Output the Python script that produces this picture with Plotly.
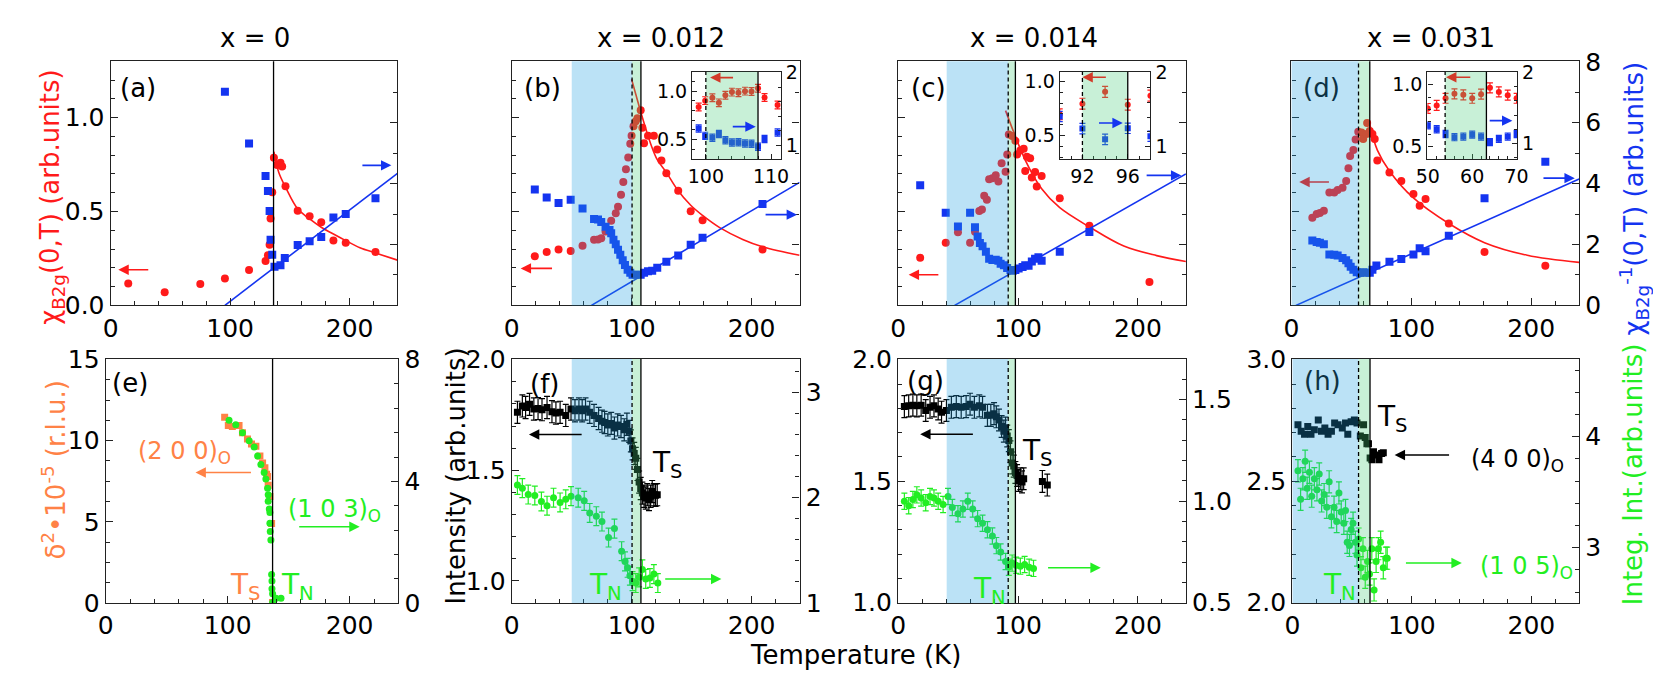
import plotly.graph_objects as go

# ======================= DATA =======================
# ---- (a) x = 0 ----
a_chi_T = [14.7, 45.2, 75.0, 95.6, 115.8, 129.6, 131.6, 133.0, 133.8, 135.2, 136.6, 139.3, 142.1, 143.5, 146.3, 156.5, 166.5, 176.2, 186.4, 196.7, 221.6]
a_chi = [0.117, 0.070, 0.114, 0.143, 0.188, 0.236, 0.267, 0.323, 0.462, 0.603, 0.786, 0.747, 0.759, 0.739, 0.635, 0.504, 0.474, 0.443, 0.345, 0.334, 0.284]
a_inv_T = [95.6, 115.8, 129.6, 131.6, 133.0, 133.8, 135.2, 137.1, 142.1, 145.7, 156.5, 166.5, 176.2, 186.4, 196.7, 221.6]
a_inv = [7.02, 5.32, 4.25, 3.76, 3.10, 2.16, 1.66, 1.27, 1.32, 1.56, 1.98, 2.11, 2.25, 2.89, 3.00, 3.52]
a_fit_T = [136.6, 140.7, 146.3, 156.5, 166.5, 176.2, 186.4, 196.7, 208.6, 221.6, 240.0]
a_fit = [0.818, 0.708, 0.630, 0.514, 0.460, 0.416, 0.380, 0.345, 0.307, 0.279, 0.241]
a_line_T = [95.6, 240.0]
a_line = [0.0, 4.34]

# ---- (b) x = 0.012 ----
b_chi_T = [19.2, 29.1, 39.0, 49.1, 59.0, 68.6, 71.9, 74.6, 78.2, 82.9, 86.7, 88.6, 91.1, 93.0, 95.2, 97.1, 98.8, 99.9, 101.5, 103.4, 104.8, 107.5, 108.9, 110.3, 113.6, 118.5, 121.3, 124.8, 128.9, 138.8, 149.2, 159.1, 209.1]
b_chi = [0.261, 0.284, 0.297, 0.289, 0.317, 0.350, 0.351, 0.357, 0.394, 0.450, 0.491, 0.525, 0.589, 0.657, 0.725, 0.788, 0.861, 0.903, 0.954, 0.980, 0.997, 1.039, 0.946, 0.864, 0.903, 0.903, 0.830, 0.772, 0.703, 0.611, 0.501, 0.453, 0.297]
b_inv_T = [19.2, 29.1, 39.0, 49.1, 59.0, 68.6, 71.9, 74.6, 78.2, 81.5, 82.9, 84.8, 86.7, 88.6, 90.5, 92.5, 94.4, 96.6, 98.8, 100.7, 103.4, 107.5, 110.3, 113.6, 117.1, 121.3, 128.9, 138.8, 149.2, 159.1, 209.1]
b_inv = [3.81, 3.54, 3.36, 3.47, 3.18, 2.84, 2.82, 2.74, 2.58, 2.48, 2.37, 2.16, 2.01, 1.83, 1.66, 1.48, 1.33, 1.17, 1.07, 1.01, 1.01, 1.01, 1.07, 1.12, 1.14, 1.24, 1.43, 1.64, 1.99, 2.22, 3.33]
b_fit_T = [99.9, 103.4, 107.5, 115.8, 121.3, 128.9, 137.7, 149.2, 159.1, 173.4, 192.6, 209.1, 240.0]
b_fit = [1.204, 1.124, 1.031, 0.861, 0.776, 0.708, 0.620, 0.533, 0.479, 0.414, 0.351, 0.312, 0.267]
b_line_T = [66.4, 240.0]
b_line = [0.0, 4.04]
bi_T = [98.9, 99.9, 101.0, 102.0, 103.0, 104.0, 105.0, 106.0, 107.0, 108.0, 109.0, 111.0]
bi_chi = [0.837, 0.902, 0.931, 0.879, 0.958, 0.990, 0.984, 1.000, 0.997, 1.030, 0.935, 0.856]
bi_inv = [1.228, 1.127, 1.100, 1.154, 1.066, 1.035, 1.040, 1.022, 1.018, 0.978, 1.083, 1.175]

# ---- (c) x = 0.014 ----
c_chi_T = [18.4, 39.7, 49.9, 60.0, 64.1, 67.7, 69.9, 71.8, 74.0, 75.9, 78.6, 81.4, 83.6, 86.3, 89.6, 92.3, 91.0, 95.1, 97.8, 99.2, 101.9, 104.7, 106.0, 107.4, 110.1, 111.5, 114.2, 115.6, 119.7, 134.8, 159.5, 209.6]
c_chi = [0.253, 0.333, 0.389, 0.333, 0.392, 0.503, 0.511, 0.584, 0.562, 0.672, 0.677, 0.693, 0.660, 0.757, 0.711, 0.910, 0.803, 0.902, 0.876, 0.803, 0.825, 0.834, 0.715, 0.791, 0.783, 0.681, 0.710, 0.633, 0.689, 0.570, 0.424, 0.124]
c_inv_T = [18.4, 39.7, 49.9, 60.0, 64.1, 66.3, 68.2, 70.4, 73.2, 75.9, 78.6, 81.4, 83.6, 85.5, 88.2, 90.9, 93.7, 95.6, 97.8, 100.5, 103.8, 106.0, 108.8, 111.5, 114.2, 117.0, 119.7, 134.8, 159.5]
c_inv = [3.95, 3.04, 2.59, 3.04, 2.57, 2.26, 2.05, 1.94, 1.76, 1.53, 1.49, 1.50, 1.47, 1.37, 1.32, 1.23, 1.16, 1.14, 1.16, 1.21, 1.26, 1.32, 1.30, 1.44, 1.53, 1.58, 1.47, 1.76, 2.41]
c_fit_T = [89.6, 95.1, 106.0, 119.7, 134.8, 159.5, 188.2, 215.6, 240.0]
c_fit = [1.037, 0.944, 0.774, 0.621, 0.520, 0.418, 0.316, 0.265, 0.234]
c_line_T = [47.1, 240.0]
c_line = [0.0, 4.32]
ci_T = [90.0, 92.0, 94.0, 96.0, 98.0]
ci_chi = [0.697, 0.794, 0.903, 0.785, 0.868]
ci_inv = [1.408, 1.245, 1.100, 1.249, 1.142]

# ---- (d) x = 0.031 ----
d_chi_T = [17.5, 21.1, 23.8, 27.1, 31.7, 35.8, 38.6, 42.7, 45.7, 47.6, 49.0, 51.7, 53.6, 55.8, 58.5, 59.9, 62.7, 63.2, 65.4, 67.6, 69.5, 71.7, 81.8, 91.7, 101.8, 107.0, 111.9, 131.3, 161.1, 211.8]
d_chi = [0.467, 0.487, 0.492, 0.504, 0.601, 0.601, 0.615, 0.626, 0.662, 0.730, 0.796, 0.827, 0.883, 0.924, 0.920, 0.886, 0.912, 0.971, 0.929, 0.912, 0.886, 0.771, 0.708, 0.662, 0.593, 0.530, 0.567, 0.436, 0.284, 0.211]
d_inv_T = [17.5, 21.1, 23.8, 27.1, 31.7, 35.8, 38.6, 42.7, 45.7, 47.6, 49.5, 51.7, 54.5, 57.2, 59.9, 62.7, 65.4, 67.6, 70.9, 81.8, 91.7, 101.8, 107.0, 111.9, 131.3, 161.1, 211.8]
d_inv = [2.13, 2.08, 2.06, 2.01, 1.67, 1.66, 1.64, 1.56, 1.48, 1.38, 1.27, 1.17, 1.09, 1.07, 1.09, 1.07, 1.07, 1.17, 1.31, 1.43, 1.52, 1.67, 1.88, 1.78, 2.29, 3.52, 4.72]
d_fit_T = [65.4, 71.7, 81.8, 101.8, 131.3, 161.1, 196.7, 240.0]
d_fit = [0.963, 0.827, 0.716, 0.572, 0.436, 0.334, 0.267, 0.229]
d_line_T = [3.8, 240.0]
d_line = [0.0, 4.15]
di_T = [50, 52, 54, 56, 58, 60, 62, 64, 66, 68, 70]
di_chi = [0.808, 0.833, 0.890, 0.926, 0.918, 0.890, 0.923, 0.974, 0.941, 0.915, 0.890]
di_inv = [1.256, 1.202, 1.135, 1.090, 1.099, 1.126, 1.099, 1.022, 1.067, 1.099, 1.135]

# ---- (e) x = 0 diffraction ----
e_d2_T = [97.5, 100.5, 103.8, 109.3, 112.1, 116.2, 119.5, 123.1, 126.4, 128.6, 130.5, 131.9, 132.7, 133.2, 134.6, 136.0, 136.8]
e_d2 = [11.45, 10.94, 10.88, 10.94, 10.49, 10.10, 9.80, 9.65, 9.06, 8.63, 8.33, 7.94, 7.80, 7.25, 6.57, 4.90, 0.04]
e_int_T = [101.1, 106.6, 112.1, 117.6, 121.7, 124.5, 127.2, 129.9, 131.3, 132.7, 133.2, 133.2, 134.1, 134.6, 134.6, 134.9, 135.4, 136.0, 136.3, 136.3, 136.8, 139.6, 143.7, 136.8]
e_int = [6.01, 5.86, 5.60, 5.33, 5.13, 4.83, 4.55, 4.29, 4.08, 3.77, 3.56, 3.35, 3.09, 2.98, 2.62, 2.35, 2.07, 0.94, 0.73, 0.47, 0.31, 0.16, 0.16, 0.02]

# ---- (f) x = 0.012 ----
f_S_T = [4.7, 8.8, 11.5, 14.8, 18.4, 21.9, 25.2, 29.4, 33.5, 36.8, 40.3, 45.0, 49.4, 52.7, 56.0, 58.7, 61.5, 65.0, 68.6, 72.4, 75.2, 77.4, 80.1, 82.9, 85.6, 88.3, 91.1, 93.8, 96.0, 97.9, 99.3, 100.7, 102.1, 103.4, 104.8, 106.2, 107.5, 108.9, 110.3, 111.7, 113.0, 114.4, 115.8, 117.1, 118.5, 119.9, 121.3]
f_S = [1.762, 1.791, 1.784, 1.798, 1.777, 1.779, 1.774, 1.784, 1.765, 1.759, 1.762, 1.748, 1.777, 1.769, 1.777, 1.769, 1.777, 1.762, 1.748, 1.734, 1.722, 1.716, 1.705, 1.712, 1.691, 1.705, 1.698, 1.683, 1.708, 1.676, 1.633, 1.597, 1.576, 1.554, 1.504, 1.447, 1.418, 1.397, 1.383, 1.375, 1.390, 1.368, 1.383, 1.404, 1.390, 1.387, 1.390]
f_N_T = [4.7, 8.8, 13.7, 19.2, 24.7, 29.4, 34.8, 40.3, 45.0, 49.4, 55.4, 60.4, 65.0, 70.5, 75.2, 80.7, 85.6, 91.6, 94.4, 96.6, 98.5, 100.7, 103.4, 106.2, 108.9, 111.7, 115.2, 118.5, 121.8]
f_N = [2.121, 2.091, 2.030, 2.021, 1.964, 1.924, 2.000, 1.955, 1.985, 2.015, 2.000, 1.970, 1.855, 1.824, 1.773, 1.621, 1.706, 1.491, 1.394, 1.333, 1.258, 1.206, 1.188, 1.242, 1.318, 1.227, 1.236, 1.273, 1.188]

# ---- (g) x = 0.014 ----
g_S_T = [5.2, 8.8, 12.3, 15.6, 19.2, 23.0, 26.6, 29.9, 33.4, 36.2, 40.3, 44.4, 48.5, 52.6, 56.7, 60.0, 63.6, 67.7, 70.4, 74.5, 77.3, 80.0, 81.9, 84.1, 86.3, 88.2, 89.6, 91.0, 92.3, 93.7, 95.1, 96.4, 97.8, 99.2, 100.5, 101.9, 103.3, 104.7, 120.3, 124.4]
g_S = [1.807, 1.810, 1.813, 1.810, 1.813, 1.791, 1.804, 1.810, 1.797, 1.784, 1.791, 1.804, 1.807, 1.804, 1.807, 1.817, 1.804, 1.810, 1.804, 1.771, 1.771, 1.778, 1.765, 1.752, 1.725, 1.706, 1.719, 1.686, 1.667, 1.621, 1.575, 1.562, 1.536, 1.523, 1.503, 1.510, 1.497, 1.510, 1.499, 1.484]
g_N_T = [5.2, 8.8, 12.3, 15.6, 19.2, 23.0, 26.6, 29.9, 33.4, 37.5, 41.6, 45.2, 49.9, 54.0, 58.1, 62.2, 66.3, 70.4, 74.5, 78.6, 81.9, 85.5, 89.6, 92.3, 95.1, 98.4, 101.9, 105.5, 109.3, 112.9]
g_N = [1.000, 0.977, 1.008, 1.031, 1.016, 0.992, 1.023, 1.016, 1.000, 0.984, 1.023, 0.969, 0.938, 0.961, 1.000, 0.961, 0.914, 0.891, 0.859, 0.828, 0.781, 0.750, 0.703, 0.675, 0.695, 0.684, 0.680, 0.688, 0.675, 0.669]

# ---- (h) x = 0.031 ----
h_S_T = [4.7, 7.4, 10.2, 12.9, 15.6, 18.4, 21.7, 24.4, 27.2, 29.9, 32.7, 35.4, 38.2, 41.8, 44.5, 46.4, 49.2, 51.9, 54.1, 56.9, 59.6, 61.0, 62.4, 63.7, 65.1, 66.5, 67.9, 70.1, 72.5, 74.7, 76.1]
h_S = [2.732, 2.706, 2.693, 2.725, 2.693, 2.712, 2.752, 2.706, 2.719, 2.693, 2.706, 2.739, 2.732, 2.719, 2.739, 2.693, 2.745, 2.752, 2.739, 2.686, 2.732, 2.680, 2.654, 2.654, 2.595, 2.588, 2.621, 2.608, 2.588, 2.614, 2.617]
h_N_T = [4.7, 6.9, 8.8, 10.7, 12.4, 14.3, 16.2, 18.4, 20.6, 22.5, 24.5, 26.6, 28.8, 30.8, 32.7, 34.9, 37.1, 39.0, 40.9, 43.1, 44.5, 45.9, 47.8, 49.2, 50.8, 52.7, 54.1, 55.5, 57.4, 59.1, 61.0, 62.9, 64.6, 66.5, 68.4, 70.1, 72.0, 73.9, 76.1, 78.3, 79.4]
h_N = [3.693, 3.435, 3.621, 3.779, 3.535, 3.679, 3.464, 3.621, 3.521, 3.664, 3.421, 3.478, 3.364, 3.593, 3.278, 3.364, 3.235, 3.493, 3.321, 3.220, 3.335, 3.048, 3.020, 3.163, 3.220, 3.048, 2.934, 3.077, 2.819, 2.991, 2.733, 2.876, 2.762, 2.991, 2.619, 2.876, 2.991, 3.048, 2.819, 2.905, 2.905]

# transition temperatures (K): start of blue region, dashed line (T_N), solid line (T_S)
b_marks = [50.0, 100.3, 107.7]
c_marks = [40.5, 91.8, 97.8]
d_marks = [0.0, 56.0, 65.4]
h_marks = [0.0, 55.4, 65.0]
a_TS = 136.3
e_TS = 136.8
bi_marks = [100.0, 108.0]
ci_marks = [92.0, 96.0]
di_marks = [53.9, 63.2]

titles = ["x = 0", "x = 0.012", "x = 0.014", "x = 0.031"]

# ======================= STYLE =======================
W, H = 1661, 680
FONT = "DejaVu Sans, Liberation Sans, Arial, sans-serif"
RED = "#ff1a1a"
BLUE = "#1434f0"
GREEN = "#22ee22"
ORANGE = "#ff8246"
BLACK = "#000000"
DARKRED_SHADED = "#b8404c"
TEAL_TXT = "#0c3244"
SH_BLUE = "rgb(30,160,225)"
SH_GREEN = "rgb(72,205,122)"
SH_OP = 0.3
AXC = "#222222"
TICK_SIZE = 25
INSET_TICK_SIZE = 19
TXT = 26


def px_x(p):
    return p / W


def px_y(p):
    return 1 - p / H


def xn(i):
    return "x" if i == 1 else f"x{i}"


def yn(i):
    return "y" if i == 1 else f"y{i}"


def xk(i):
    return "xaxis" if i == 1 else f"xaxis{i}"


def yk(i):
    return "yaxis" if i == 1 else f"yaxis{i}"


fig = go.Figure()
layout = dict(width=W, height=H, autosize=False, margin=dict(l=0, r=0, t=0, b=0),
              plot_bgcolor="white", paper_bgcolor="white", showlegend=False,
              hovermode=False, font=dict(family=FONT, color="black"))


def axis_common(size=TICK_SIZE, ticklen=7):
    return dict(ticks="inside", ticklen=ticklen, tickwidth=1.2, tickcolor=AXC,
                showline=True, linecolor=AXC, linewidth=1.3, showgrid=False, zeroline=False,
                tickfont=dict(size=size, family=FONT, color="black"))


panels = [
    dict(x=(92, 383), y=(41, 296), yl=[0, 1.3], yld=0.5, ylm=0.1, yls=True, ylf=".1f",
         yr=[0, 8.02], yrd=2, yrm=1, yrs=False, yrf=""),
    dict(x=(499, 791), y=(41, 296), yl=[0, 1.3], yld=0.5, ylm=0.1, yls=False, ylf=".1f",
         yr=[0, 8.02], yrd=2, yrm=1, yrs=False, yrf=""),
    dict(x=(891, 1183), y=(41, 296), yl=[0, 1.3], yld=0.5, ylm=0.1, yls=False, ylf=".1f",
         yr=[0, 8.02], yrd=2, yrm=1, yrs=False, yrf=""),
    dict(x=(1290, 1582), y=(41, 296), yl=[0, 1.3], yld=0.5, ylm=0.1, yls=False, ylf=".1f",
         yr=[0, 8.02], yrd=2, yrm=1, yrs=True, yrf=""),
    dict(x=(87, 384), y=(352, 607), yl=[0, 15.03], yld=5, ylm=1.25, yls=True, ylf="",
         yr=[0, 8.02], yrd=4, yrm=0.8, yrs=True, yrf=""),
    dict(x=(499, 791), y=(352, 607), yl=[0.9, 2.003], yld=0.5, ylm=0.1, yls=True, ylf=".1f",
         yr=[0.997, 3.32], yrd=1, yrm=0.2, yrs=True, yrf=""),
    dict(x=(891, 1183), y=(352, 607), yl=[0.998, 2.003], yld=0.5, ylm=0.1, yls=True, ylf=".1f",
         yr=[0.498, 1.7], yrd=0.5, yrm=0.1, yrs=True, yrf=".1f"),
    dict(x=(1291, 1582), y=(352, 607), yl=[1.998, 3.003], yld=0.5, ylm=0.1, yls=True, ylf=".1f",
         yr=[2.5, 4.7], yrd=1, yrm=0.2, yrs=True, yrf=""),
]

for i, p in enumerate(panels):
    xi = i + 1
    yl = 2 * i + 1
    yr = 2 * i + 2
    ax = axis_common()
    ax.update(domain=[px_x(p["x"][0]), px_x(p["x"][1])], anchor=yn(yl), range=[0, 240],
              tick0=0, dtick=100, mirror=True,
              minor=dict(ticks="inside", ticklen=4, dtick=20, tick0=0, tickcolor=AXC, showgrid=False))
    layout[xk(xi)] = ax
    ay = axis_common()
    ay.update(domain=[px_y(p["y"][1]), px_y(p["y"][0])], anchor=xn(xi), range=p["yl"],
              tick0=0, dtick=p["yld"], tickformat=p["ylf"], showticklabels=p["yls"],
              side="left", mirror=False,
              minor=dict(ticks="inside", ticklen=4, dtick=p["ylm"], tick0=0, tickcolor=AXC, showgrid=False))
    layout[yk(yl)] = ay
    ar = axis_common()
    ar.update(overlaying=yn(yl), anchor=xn(xi), side="right", range=p["yr"],
              tick0=0, dtick=p["yrd"], tickformat=p["yrf"], showticklabels=p["yrs"],
              minor=dict(ticks="inside", ticklen=4, dtick=p["yrm"], tick0=0, tickcolor=AXC, showgrid=False))
    layout[yk(yr)] = ar

insets = [
    dict(x=(682, 772), y=(52, 143), xr=[97.9, 111.5], xd=10, xm=2, yl=[0.3, 1.2], yr=[0.81, 2.01]),
    dict(x=(1055, 1147), y=(52, 143), xr=[90.0, 98.0], xd=4, xm=1, yl=[0.285, 1.088], yr=[0.837, 2.01]),
    dict(x=(1428, 1519), y=(52, 143), xr=[49.9, 70.1], xd=10, xm=2, yl=[0.403, 1.103], yr=[0.785, 2.01]),
]
for j, p in enumerate(insets):
    xi = 9 + j
    yl = 17 + 2 * j
    yr = 18 + 2 * j
    ax = axis_common(size=INSET_TICK_SIZE, ticklen=5)
    ax.update(domain=[px_x(p["x"][0]), px_x(p["x"][1])], anchor=yn(yl), range=p["xr"],
              tick0=0, dtick=p["xd"], mirror=True,
              minor=dict(ticks="inside", ticklen=3, dtick=p["xm"], tick0=0, tickcolor=AXC, showgrid=False))
    layout[xk(xi)] = ax
    ay = axis_common(size=INSET_TICK_SIZE, ticklen=5)
    ay.update(domain=[px_y(p["y"][1]), px_y(p["y"][0])], anchor=xn(xi), range=p["yl"],
              tick0=0, dtick=0.5, tickformat=".1f", side="left",
              minor=dict(ticks="inside", ticklen=3, dtick=0.1, tick0=0, tickcolor=AXC, showgrid=False))
    layout[yk(yl)] = ay
    ar = axis_common(size=INSET_TICK_SIZE, ticklen=5)
    ar.update(overlaying=yn(yl), anchor=xn(xi), side="right", range=p["yr"], tick0=0, dtick=1,
              minor=dict(ticks="inside", ticklen=3, dtick=0.2, tick0=0, tickcolor=AXC, showgrid=False))
    layout[yk(yr)] = ar

fig.update_layout(**layout)


# ======================= TRACES =======================
def pts(x, y, xi, yi, color, symbol, size=8, err=None):
    kw = {}
    if err is not None:
        kw["error_y"] = dict(type="constant", value=err, color=color, thickness=1.2, width=3)
    fig.add_trace(go.Scatter(x=x, y=y, xaxis=xn(xi), yaxis=yn(yi), mode="markers",
                             marker=dict(color=color, symbol=symbol, size=size, line=dict(width=0)), **kw))


def curve(x, y, xi, yi, color, spline=True):
    fig.add_trace(go.Scatter(x=x, y=y, xaxis=xn(xi), yaxis=yn(yi), mode="lines",
                             line=dict(color=color, width=1.6, shape="spline" if spline else "linear")))


# (a)
curve(a_fit_T, a_fit, 1, 1, RED)
curve(a_line_T, a_line, 1, 2, BLUE, spline=False)
pts(a_chi_T, a_chi, 1, 1, RED, "circle")
pts(a_inv_T, a_inv, 1, 2, BLUE, "square")
# (b)
curve(b_fit_T, b_fit, 2, 3, RED)
curve(b_line_T, b_line, 2, 4, BLUE, spline=False)
pts(b_chi_T, b_chi, 2, 3, RED, "circle")
pts(b_inv_T, b_inv, 2, 4, BLUE, "square")
# (c)
curve(c_fit_T, c_fit, 3, 5, RED)
curve(c_line_T, c_line, 3, 6, BLUE, spline=False)
pts(c_chi_T, c_chi, 3, 5, RED, "circle")
pts(c_inv_T, c_inv, 3, 6, BLUE, "square")
# (d)
curve(d_fit_T, d_fit, 4, 7, RED)
curve(d_line_T, d_line, 4, 8, BLUE, spline=False)
pts(d_chi_T, d_chi, 4, 7, RED, "circle")
pts(d_inv_T, d_inv, 4, 8, BLUE, "square")
# (e)
pts(e_int_T, e_int, 5, 10, GREEN, "circle", size=7)
pts(e_d2_T, e_d2, 5, 9, ORANGE, "square", size=7)
# (f)
pts(f_S_T, f_S, 6, 11, BLACK, "square", size=7, err=0.05)
pts(f_N_T, f_N, 6, 12, GREEN, "circle", size=7, err=0.09)
# (g)
pts(g_S_T, g_S, 7, 13, BLACK, "square", size=7, err=0.045)
pts(g_N_T, g_N, 7, 14, GREEN, "circle", size=7, err=0.04)
# (h)
pts(h_S_T, h_S, 8, 15, BLACK, "square", size=7)
pts(h_N_T, h_N, 8, 16, GREEN, "circle", size=7, err=0.1)
# insets
pts(bi_T, bi_chi, 9, 17, RED, "circle", size=6, err=0.04)
pts(bi_T, bi_inv, 9, 18, BLUE, "square", size=6, err=0.05)
pts(ci_T, ci_chi, 10, 19, RED, "circle", size=6, err=0.05)
pts(ci_T, ci_inv, 10, 20, BLUE, "square", size=6, err=0.07)
pts(di_T, di_chi, 11, 21, RED, "circle", size=6, err=0.04)
pts(di_T, di_inv, 11, 22, BLUE, "square", size=6, err=0.05)


# ======================= SHAPES =======================
def shade(xi, yi, x0, x1, color):
    fig.add_shape(type="rect", xref=xn(xi), yref=f"{yn(yi)} domain", x0=x0, x1=x1, y0=0, y1=1,
                  fillcolor=color, opacity=SH_OP, line=dict(width=0), layer="above")


def vline(xi, yi, x, dash="solid"):
    fig.add_shape(type="line", xref=xn(xi), yref=f"{yn(yi)} domain", x0=x, x1=x, y0=0, y1=1,
                  line=dict(color="black", width=1.3, dash=dash), layer="above")


for xi, yi, m in [(2, 3, b_marks), (3, 5, c_marks), (4, 7, d_marks),
                  (6, 11, b_marks), (7, 13, c_marks), (8, 15, h_marks)]:
    shade(xi, yi, m[0], m[1], SH_BLUE)
    shade(xi, yi, m[1], m[2], SH_GREEN)
    vline(xi, yi, m[1], "4px,3px")
    vline(xi, yi, m[2])
vline(1, 1, a_TS)
vline(5, 9, e_TS)
for xi, yi, m in [(9, 17, bi_marks), (10, 19, ci_marks), (11, 21, di_marks)]:
    shade(xi, yi, m[0], m[1], SH_GREEN)
    vline(xi, yi, m[0], "4px,3px")
    vline(xi, yi, m[1])


# ======================= ANNOTATIONS =======================
def arrow(xi, yi, tip, tail, color):
    fig.add_annotation(x=tip[0], y=tip[1], ax=tail[0], ay=tail[1], xref=xn(xi), yref=yn(yi),
                       axref=xn(xi), ayref=yn(yi), showarrow=True, arrowhead=2, arrowsize=1.3,
                       arrowwidth=1.6, arrowcolor=color, text="")


def label(xp, yp, s, color="black", size=TXT, xanchor="center", angle=0):
    fig.add_annotation(x=px_x(xp), y=px_y(yp), xref="paper", yref="paper", text=s, showarrow=False,
                       font=dict(size=size, color=color, family=FONT), xanchor=xanchor,
                       yanchor="middle", textangle=angle)


# main arrows
arrow(1, 1, (6.4, 0.19), (32.7, 0.19), RED)
arrow(1, 2, (234.9, 4.6), (209.4, 4.6), BLUE)
arrow(2, 3, (7.4, 0.197), (34.8, 0.197), RED)
arrow(2, 4, (237.9, 2.98), (210.4, 2.98), BLUE)
arrow(3, 5, (8.8, 0.163), (34.8, 0.163), RED)
arrow(3, 6, (236.2, 4.27), (206.0, 4.27), BLUE)
arrow(4, 7, (6.6, 0.657), (32.6, 0.657), DARKRED_SHADED)
arrow(4, 8, (236.4, 4.18), (209.0, 4.18), BLUE)
arrow(5, 9, (73.6, 8.04), (120.3, 8.04), ORANGE)
arrow(5, 10, (208.2, 2.51), (157.4, 2.51), GREEN)
arrow(6, 11, (14.3, 1.662), (59.5, 1.662), BLACK)
arrow(6, 12, (174.8, 1.227), (126.7, 1.227), GREEN)
arrow(7, 13, (18.4, 1.693), (63.6, 1.693), BLACK)
arrow(7, 14, (169.0, 0.672), (123.8, 0.672), GREEN)
arrow(8, 15, (85.6, 2.608), (132.4, 2.608), BLACK)
arrow(8, 16, (141.8, 2.862), (93.8, 2.862), GREEN)
# inset arrows
arrow(9, 17, (100.65, 1.14), (104.4, 1.14), "#d23a28")
arrow(9, 18, (107.65, 1.254), (103.9, 1.254), BLUE)
arrow(10, 19, (92.0, 1.038), (94.2, 1.038), "#d23a28")
arrow(10, 20, (95.56, 1.32), (93.33, 1.32), BLUE)
arrow(11, 21, (54.1, 1.059), (59.9, 1.059), "#d23a28")
arrow(11, 22, (69.05, 1.323), (63.6, 1.323), BLUE)

# column titles
for xc, t in zip([238, 650, 1029, 1432], titles):
    label(xc, 17, t)

# panel letters
label(120, 69, "(a)")
label(530, 69, "(b)")
label(922, 69, "(c)")
label(1321, 69, "(d)", color=TEAL_TXT)
label(112, 377, "(e)")
label(532, 378, "(f)")
label(919, 375, "(g)")
label(1322, 375, "(h)", color=TEAL_TXT)

# axis titles
label(32, 183, "χ<sub>B2g</sub>(0,T) (arb.units)", color=RED, angle=-90)
label(1637, 184, "χ<sub>B2g</sub><sup>-1</sup>(0,T) (arb.units)", color=BLUE, angle=-90)
label(35, 468, "δ<sup>2</sup>•10<sup>-5</sup> (r.l.u.)", color=ORANGE, angle=-90)
label(442, 474, "Intensity (arb.units)", color=BLACK, angle=-90)
label(1637, 472, "Integ. Int.(arb.units)", color=GREEN, angle=-90)
label(848, 661, "Temperature (K)", size=26)

# in-panel texts
label(118, 450, "(2 0 0)<sub>O</sub>", color=ORANGE, size=24, xanchor="left")
label(270, 510, "(1 0 3)<sub>O</sub>", color=GREEN, size=24, xanchor="left")
label(211, 590, "T<sub>S</sub>", color=ORANGE, size=28, xanchor="left")
label(263, 590, "T<sub>N</sub>", color=GREEN, size=28, xanchor="left")
label(639, 462, "T<sub>S</sub>", color=BLACK, size=28, xanchor="left")
label(575, 590, "T<sub>N</sub>", color=GREEN, size=28, xanchor="left")
label(1015, 450, "T<sub>S</sub>", color=BLACK, size=28, xanchor="left")
label(965, 594, "T<sub>N</sub>", color=GREEN, size=28, xanchor="left")
label(1375, 414, "T<sub>S</sub>", color=BLACK, size=28, xanchor="left")
label(1470, 458, "(4 0 0)<sub>O</sub>", color=BLACK, size=24, xanchor="left")
label(1479, 570, "(1 0 5)<sub>O</sub>", color=GREEN, size=24, xanchor="left")
label(1320, 590, "T<sub>N</sub>", color=GREEN, size=28, xanchor="left")

fig.write_html("out.html")
